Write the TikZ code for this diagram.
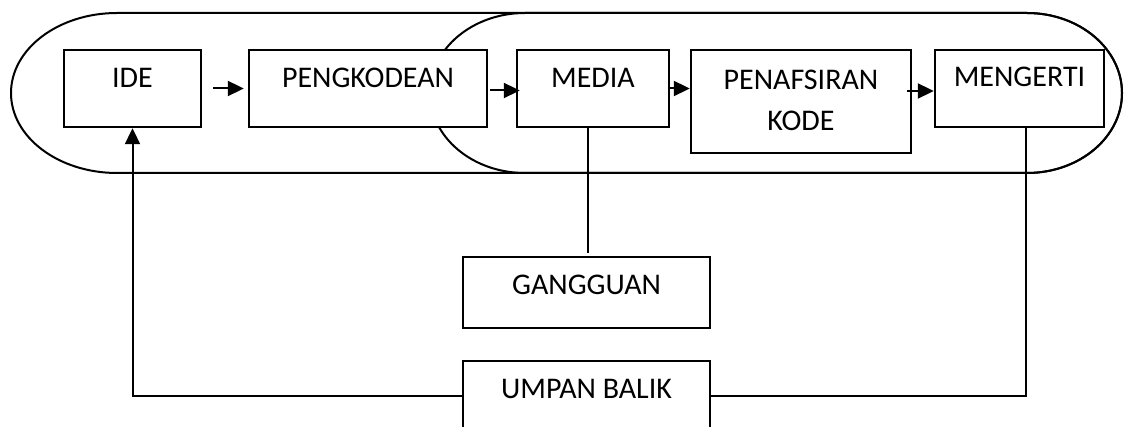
\documentclass[tikz,border=0pt]{standalone}
\usepackage{fontspec}
\setmainfont{Carlito}
\usetikzlibrary{arrows.meta}
\begin{document}
\begin{tikzpicture}[x=1pt,y=-1pt,
  box/.style={draw, line width=2.4pt, inner sep=0pt},
  lbl/.style={anchor=base, inner sep=0pt, font=\fontsize{30}{36}\selectfont},
  conn/.style={line width=2pt},
  arr/.style={line width=2pt, -{Triangle[length=16pt,width=15pt]}},
  outline/.style={line width=2pt}]
\useasboundingbox (0,0) rectangle (1124,427);
\fill[white] (0,0) rectangle (1124,427);
% outlines
\draw[outline] (117,13) -- (1027,13) arc[start angle=-90,end angle=90,x radius=95,y radius=80]
  -- (117,173) arc[start angle=90,end angle=270,x radius=106,y radius=80] -- cycle;
\draw[outline] (525,13) -- (1027,13) arc[start angle=-90,end angle=90,x radius=95,y radius=80]
  -- (525,173) arc[start angle=90,end angle=270,x radius=95,y radius=80] -- cycle;
% boxes
\node[box, fill=white, minimum width=137pt, minimum height=77pt] (ide) at (132.5,88.5) {};
\node[box, fill=white, minimum width=238pt, minimum height=77pt] (peng) at (368,88.5) {};
\node[box, fill=white, minimum width=152pt, minimum height=77pt] (media) at (593,88.5) {};
\node[box, fill=white, minimum width=220pt, minimum height=103pt] (penaf) at (801,101.5) {};
\node[box, fill=white, minimum width=169pt, minimum height=77pt] (meng) at (1019.5,88.5) {};
\node[box, fill=white, minimum width=247pt, minimum height=71pt] (gang) at (586.5,292.5) {};
\node[box, fill=white, minimum width=247pt, minimum height=80pt] (umpan) at (586.5,401) {};
% labels
\node[lbl] (tide) at (132.5,88) {IDE};
\node[lbl] (tpeng) at (368,88) {PENGKODEAN};
\node[lbl] (tmedia) at (593,88) {MEDIA};
\node[lbl] (tpenaf1) at (801,90) {PENAFSIRAN};
\node[lbl] (tpenaf2) at (801,131) {KODE};
\node[lbl] (tmeng) at (1019.5,87) {MENGERTI};
\node[lbl] (tgang) at (586.5,295) {GANGGUAN};
\node[lbl] (tumpan) at (586.5,398) {UMPAN BALIK};
% arrows
\draw[arr] ([xshift=11pt]ide.east) -- ([xshift=-4pt]peng.west);
\draw[arr] ([xshift=2pt,yshift=-2pt]peng.east) -- ([xshift=4pt,yshift=-2pt]media.west);
\draw[arr] (media.east) -- (penaf.west |- media.east);
\draw[arr] ([xshift=-5pt,yshift=-2.5pt]penaf.east |- meng.west) -- ([yshift=-2.5pt]meng.west);
% gangguan link
\coordinate (gtop) at (588,253);
\draw[conn] (media.south -| gtop) -- (gtop);
% feedback
\draw[arr] ([yshift=5pt]umpan.west) -| (ide.south);
\draw[conn] ([xshift=6.5pt]meng.south) |- ([yshift=5pt]umpan.east);
\end{tikzpicture}
\end{document}
